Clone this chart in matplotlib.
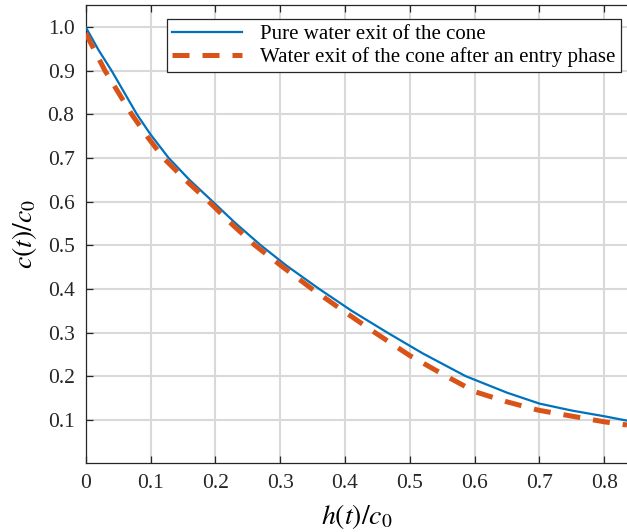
import numpy as np
import matplotlib
matplotlib.use("Agg")
import matplotlib.pyplot as plt

# values
h_pure = [0, 0.02, 0.040, 0.079, 0.1, 0.128, 0.16, 0.196, 0.23, 0.270, 0.31,
          0.36, 0.41, 0.465, 0.52, 0.586, 0.65, 0.7, 0.75, 0.8, 0.835]
c_pure = [1.0, 0.947, 0.9, 0.8, 0.754, 0.7, 0.650, 0.6, 0.552, 0.5, 0.453,
          0.4, 0.350, 0.3, 0.252, 0.2, 0.162, 0.137, 0.121, 0.108, 0.098]

h_entry = [0, 0.0298, 0.071, 0.095, 0.12, 0.155, 0.19, 0.225, 0.261, 0.305,
           0.349, 0.395, 0.446, 0.5, 0.556, 0.601, 0.65, 0.698, 0.747, 0.801, 0.835]
c_entry = [0.986, 0.9, 0.8, 0.749, 0.7, 0.648, 0.6, 0.549, 0.5, 0.449,
           0.4, 0.352, 0.3, 0.247, 0.2, 0.164, 0.141, 0.122, 0.109, 0.095, 0.088]

labels = ["Pure water exit of the cone",
          "Water exit of the cone after an entry phase"]
xticks = [0, 0.1, 0.2, 0.3, 0.4, 0.5, 0.6, 0.7, 0.8]
xticklabels = ["0", "0.1", "0.2", "0.3", "0.4", "0.5", "0.6", "0.7", "0.8"]
yticks = [0.1, 0.2, 0.3, 0.4, 0.5, 0.6, 0.7, 0.8, 0.9, 1.0]
yticklabels = ["0.1", "0.2", "0.3", "0.4", "0.5", "0.6", "0.7", "0.8", "0.9", "1.0"]

plt.rcParams['font.family'] = ['Liberation Serif', 'DejaVu Serif']
plt.rcParams['mathtext.fontset'] = 'stix'

fig = plt.figure(figsize=(6.27, 5.32), dpi=100)
ax = fig.add_axes([0.1367, 0.129, 1.0 - 0.1367, 0.990 - 0.129])

ax.plot(h_pure, c_pure, color='#0072BD', lw=1.6, label=labels[0], zorder=3)
line2, = ax.plot(h_entry, c_entry, color='#D95319', lw=3.6, label=labels[1], zorder=3)
line2.set_dashes((3.4, 2.6))

ax.set_xlim(0, 0.835)
ax.set_ylim(0, 1.05)
ax.set_xticks(xticks)
ax.set_xticklabels(xticklabels)
ax.set_yticks(yticks)
ax.set_yticklabels(yticklabels)

ax.grid(True, color='#d9d9d9', lw=1.5)
ax.set_axisbelow(True)
for side in ['left', 'bottom', 'top']:
    ax.spines[side].set_color('#262626')
    ax.spines[side].set_linewidth(0.9)
ax.spines['right'].set_visible(False)
ax.tick_params(direction='in', length=5, width=0.9, colors='#262626',
               labelsize=15.5, top=True, pad=8)

ax.set_xlabel(r'$h(t)/c_0$', fontsize=20, labelpad=6)
ax.set_ylabel(r'$c(t)/c_0$', fontsize=20, labelpad=6)

leg = ax.legend(loc='upper right', bbox_to_anchor=(0.988, 0.970), borderaxespad=0,
                fontsize=15, frameon=True, fancybox=False, framealpha=1,
                edgecolor='#262626', handlelength=3.35, handletextpad=0.85,
                borderpad=0.25, labelspacing=0.15)
leg.get_frame().set_linewidth(0.9)

fig.savefig('out.png', dpi=100)
